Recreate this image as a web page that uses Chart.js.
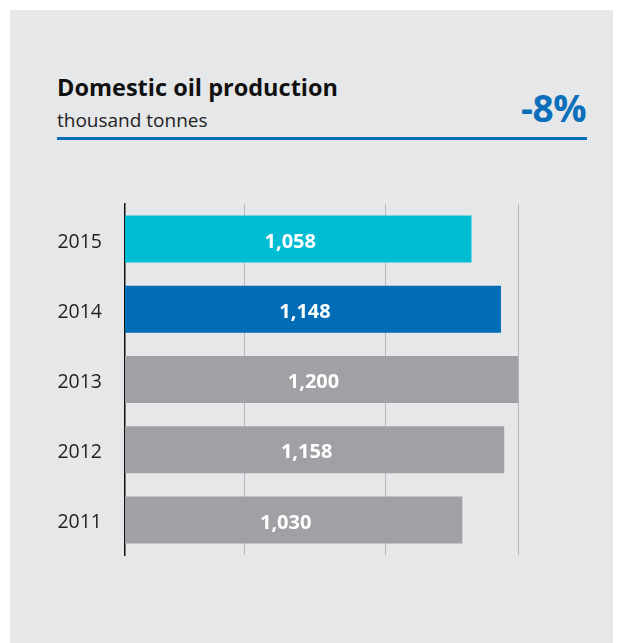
<!DOCTYPE html>
<html>
<head>
<meta charset="utf-8">
<script src="https://cdn.jsdelivr.net/npm/chart.js@4"></script>
<style>
  html, body { margin: 0; padding: 0; background: #fff; }
  body { width: 623px; height: 643px; position: relative; overflow: hidden; font-family: "Open Sans", sans-serif; }
  .panel { position: absolute; left: 10px; top: 10px; width: 603px; height: 633px; background: #e6e7e9; }
  .title, .unit, .change { position: absolute; line-height: 1; white-space: nowrap; }
  .title { left: 57px; top: 76px; font-weight: 700; font-size: 23.5px; color: #111; }
  .unit { left: 57px; top: 111px; font-size: 19px; color: #222; }
  .change { right: 37px; top: 89px; font-weight: 700; font-size: 37px; color: #0b6fba; letter-spacing: -0.5px; }
  .rule { position: absolute; left: 57px; top: 137px; width: 530px; height: 3px; background: #0b6fba; }
  #chart { position: absolute; left: 0; top: 0; }
</style>
</head>
<body>
<div class="panel"></div>
<div class="title">Domestic oil production</div>
<div class="unit">thousand tonnes</div>
<div class="change">-8%</div>
<div class="rule"></div>
<canvas id="chart" width="623" height="643"></canvas>
<script>
'use strict';

// ── Data
const years = ['2015', '2014', '2013', '2012', '2011'];
const production = [1058, 1148, 1200, 1158, 1030];
const barColors = ['#00bdd3', '#006db6', '#a0a1a4', '#a0a1a4', '#a0a1a4'];
const gridValues = [365, 795, 1200];
const axisMax = 1200;

// white value labels inside each bar
const valueLabels = {
    id: 'valueLabels',
    afterDatasetsDraw(chart) {
        const ctx = chart.ctx;
        const meta = chart.getDatasetMeta(0);
        ctx.save();
        ctx.fillStyle = '#ffffff';
        ctx.font = 'bold 20px "Open Sans"';
        ctx.textAlign = 'center';
        ctx.textBaseline = 'middle';
        meta.data.forEach((bar, i) => {
            const cx = (bar.base + bar.x) / 2 - 8;
            ctx.fillText(production[i].toLocaleString('en-US'), cx, bar.y + 3);
        });
        ctx.restore();
    }
};

new Chart(document.getElementById('chart'), {
    type: 'bar',
    data: {
        labels: years,
        datasets: [{
            data: production,
            backgroundColor: barColors,
            borderWidth: 0,
            barPercentage: 0.67,
            categoryPercentage: 1
        }]
    },
    options: {
        indexAxis: 'y',
        responsive: false,
        animation: false,
        layout: { padding: { top: 204, bottom: 88, left: 0, right: 105 } },
        plugins: {
            legend: { display: false },
            tooltip: { enabled: false }
        },
        scales: {
            x: {
                min: 0,
                max: axisMax,
                afterBuildTicks: scale => { scale.ticks = gridValues.map(v => ({ value: v })); },
                afterFit: scale => { scale.height = 0; },
                ticks: { display: false },
                grid: { color: '#b7b8bb', lineWidth: 1, drawTicks: false },
                border: { display: false }
            },
            y: {
                afterFit: scale => { scale.width = 125; },
                ticks: {
                    padding: 23,
                    labelOffset: 3,
                    color: '#231f20',
                    font: { family: 'Open Sans', size: 19.5 }
                },
                grid: { color: 'transparent', drawTicks: false },
                border: { display: true, color: '#111', width: 1.5 }
            }
        }
    },
    plugins: [valueLabels]
});
</script>
</body>
</html>
